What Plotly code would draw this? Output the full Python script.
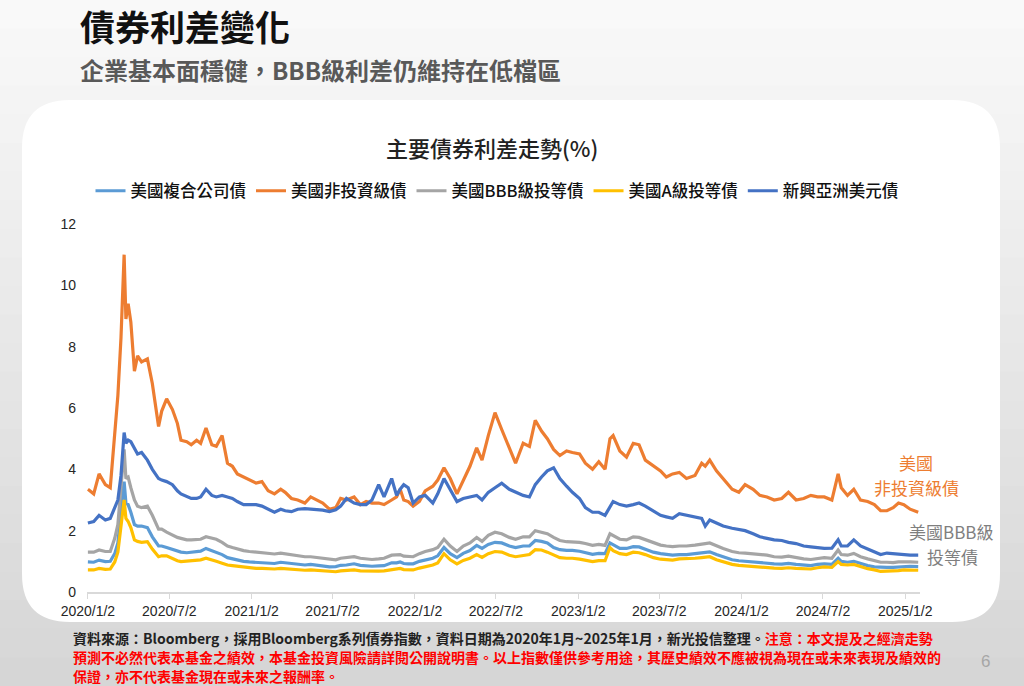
import plotly.graph_objects as go

# ---------------- data ----------------
dates = [
    "2020-01-02", "2020-01-15", "2020-01-27", "2020-02-10", "2020-02-21", "2020-03-02", "2020-03-09", "2020-03-16",
    "2020-03-23", "2020-03-27", "2020-04-01", "2020-04-07", "2020-04-15", "2020-04-22", "2020-05-01", "2020-05-14",
    "2020-05-25", "2020-06-08", "2020-06-15", "2020-06-26", "2020-07-09", "2020-07-20", "2020-07-28", "2020-08-10",
    "2020-08-20", "2020-09-01", "2020-09-10", "2020-09-22", "2020-10-05", "2020-10-15", "2020-10-28", "2020-11-09",
    "2020-11-20", "2020-12-01", "2020-12-15", "2020-12-28",
    "2021-01-12", "2021-01-25", "2021-02-08", "2021-02-22", "2021-03-08", "2021-03-18", "2021-04-01", "2021-04-15",
    "2021-05-01", "2021-05-14", "2021-05-28", "2021-06-10", "2021-06-25", "2021-07-09", "2021-07-20", "2021-08-02",
    "2021-08-19", "2021-09-02", "2021-09-15", "2021-09-28", "2021-10-13", "2021-10-25", "2021-11-11", "2021-11-22",
    "2021-11-30", "2021-12-08", "2021-12-18", "2021-12-29",
    "2022-01-12", "2022-01-25", "2022-02-11", "2022-02-22", "2022-03-08", "2022-03-22", "2022-04-06", "2022-04-20",
    "2022-05-05", "2022-05-20", "2022-06-01", "2022-06-15", "2022-06-30", "2022-07-15", "2022-08-01", "2022-08-15",
    "2022-09-01", "2022-09-15", "2022-09-28", "2022-10-12", "2022-10-25", "2022-11-08", "2022-11-22", "2022-12-07",
    "2022-12-20",
    "2023-01-05", "2023-01-18", "2023-02-03", "2023-02-17", "2023-03-03", "2023-03-14", "2023-03-21", "2023-04-05",
    "2023-04-20", "2023-05-05", "2023-05-18", "2023-06-01", "2023-06-19", "2023-07-05", "2023-07-18", "2023-08-01",
    "2023-08-16", "2023-09-01", "2023-09-20", "2023-10-05", "2023-10-13", "2023-10-23", "2023-11-07", "2023-11-22",
    "2023-12-12", "2023-12-27",
    "2024-01-10", "2024-01-28", "2024-02-12", "2024-02-28", "2024-03-15", "2024-04-01", "2024-04-16", "2024-05-03",
    "2024-05-20", "2024-06-05", "2024-06-20", "2024-07-05", "2024-07-22", "2024-08-05", "2024-08-12", "2024-08-26",
    "2024-09-09", "2024-09-24", "2024-10-10", "2024-10-25", "2024-11-08", "2024-11-22", "2024-12-06", "2024-12-18",
    "2024-12-30",
    "2025-01-13", "2025-01-31",
]

us_corp_agg = [  # 美國複合公司債
    0.98, 0.97, 1.04, 0.99, 1.0, 1.25, 1.6, 2.5, 3.6, 2.9, 2.85, 2.6, 2.2, 2.15, 2.15, 2.1, 1.8, 1.5, 1.5, 1.45,
    1.38, 1.33, 1.3, 1.28, 1.3, 1.3, 1.33, 1.42, 1.35, 1.3, 1.22, 1.12, 1.08, 1.05, 1.0, 0.98,
    0.96, 0.95, 0.93, 0.93, 0.97, 0.95, 0.92, 0.9, 0.88, 0.9, 0.88, 0.85, 0.82, 0.83, 0.87, 0.88, 0.92, 0.87,
    0.85, 0.84, 0.85, 0.86, 0.95, 0.95, 0.98, 0.93, 0.92, 0.92,
    1.0, 1.05, 1.1, 1.18, 1.45, 1.25, 1.12, 1.26, 1.35, 1.52, 1.42, 1.55, 1.62, 1.6, 1.5, 1.45, 1.5, 1.5, 1.68,
    1.65, 1.6, 1.45, 1.38, 1.36, 1.36,
    1.33, 1.28, 1.23, 1.26, 1.25, 1.6, 1.55, 1.42, 1.42, 1.48, 1.47, 1.4, 1.3, 1.25, 1.22, 1.2, 1.22, 1.22, 1.25,
    1.27, 1.3, 1.31, 1.22, 1.14, 1.05, 1.02,
    1.0, 0.99, 0.97, 0.95, 0.92, 0.91, 0.93, 0.9, 0.87, 0.86, 0.9, 0.92, 0.9, 1.1, 1.0, 0.97, 1.0, 0.92, 0.86,
    0.82, 0.8, 0.8, 0.8, 0.82, 0.83,
    0.84, 0.83,
]

us_high_yield = [  # 美國非投資級債
    3.35, 3.2, 3.85, 3.5, 3.4, 5.0, 6.4, 8.3, 11.0, 8.9, 9.4, 8.8, 7.2, 7.7, 7.5, 7.6, 6.8, 5.4, 5.9, 6.3,
    5.95, 5.5, 4.95, 4.9, 4.8, 4.95, 4.85, 5.35, 4.8, 4.75, 5.1, 4.2, 4.1, 3.85, 3.75, 3.65,
    3.55, 3.6, 3.3, 3.2, 3.35, 3.25, 3.05, 3.0, 2.9, 3.1, 3.0, 2.9, 2.7, 2.75, 3.05, 3.0, 3.1, 2.85,
    2.95, 2.9, 2.9, 2.85, 3.0, 3.1, 3.35, 3.0, 2.95, 2.8,
    2.95, 3.3, 3.45, 3.65, 4.05, 3.7, 3.2, 3.65, 4.1, 4.7, 4.3, 5.1, 5.85, 5.3, 4.7, 4.2, 4.85, 4.75, 5.6,
    5.25, 5.0, 4.65, 4.45, 4.6, 4.55,
    4.5, 4.2, 4.0, 4.25, 4.0, 5.0, 5.1, 4.6, 4.4, 4.85, 4.8, 4.3, 4.1, 3.95, 3.75, 3.85, 3.9, 3.7, 3.8,
    4.2, 4.1, 4.3, 3.95, 3.7, 3.35, 3.25,
    3.5, 3.35, 3.15, 3.1, 3.0, 3.05, 3.25, 3.0, 3.05, 3.15, 3.1, 3.1, 3.0, 3.85, 3.4, 3.15, 3.35, 3.0, 2.95,
    2.85, 2.65, 2.65, 2.75, 2.9, 2.85,
    2.7, 2.6,
]

us_bbb = [  # 美國BBB級投等債
    1.3, 1.3, 1.37, 1.32, 1.32, 1.75, 2.2, 3.3, 4.65, 3.7, 3.75, 3.4, 3.0, 2.8, 2.75, 2.8, 2.5, 2.05, 2.05, 1.95,
    1.85, 1.78, 1.75, 1.7, 1.7, 1.7, 1.72, 1.8, 1.75, 1.72, 1.62, 1.5, 1.45, 1.4, 1.35, 1.32,
    1.3, 1.27, 1.25, 1.24, 1.27, 1.25, 1.2, 1.17, 1.15, 1.15, 1.12, 1.1, 1.06, 1.05, 1.1, 1.12, 1.15, 1.1,
    1.07, 1.06, 1.08, 1.1, 1.2, 1.2, 1.22, 1.17, 1.15, 1.15,
    1.25, 1.32, 1.38, 1.45, 1.72, 1.5, 1.32, 1.5, 1.6, 1.78, 1.65, 1.85, 1.95, 1.9, 1.78, 1.72, 1.8, 1.8, 2.0,
    1.95, 1.9, 1.78, 1.68, 1.64, 1.64,
    1.62, 1.58, 1.52, 1.55, 1.52, 1.9, 1.85, 1.72, 1.7, 1.8, 1.78, 1.7, 1.6, 1.53, 1.5, 1.48, 1.5, 1.5, 1.53,
    1.55, 1.58, 1.6, 1.5, 1.42, 1.32, 1.28,
    1.27, 1.25, 1.22, 1.2, 1.15, 1.14, 1.17, 1.12, 1.08, 1.06, 1.1, 1.12, 1.1, 1.37, 1.22, 1.2, 1.26, 1.15, 1.08,
    1.02, 0.97, 0.97, 0.96, 0.98, 0.99,
    0.98, 0.97,
]

us_a = [  # 美國A級投等債
    0.72, 0.72, 0.77, 0.74, 0.75, 0.98, 1.3, 2.1, 3.0, 2.4, 2.3, 2.1, 1.7, 1.65, 1.62, 1.64, 1.4, 1.15, 1.18, 1.18,
    1.08, 1.02, 0.99, 1.0, 1.02, 1.03, 1.05, 1.1, 1.03, 1.0, 0.94, 0.88, 0.86, 0.84, 0.8, 0.78,
    0.77, 0.77, 0.75, 0.75, 0.77, 0.76, 0.74, 0.72, 0.71, 0.72, 0.7, 0.68, 0.66, 0.66, 0.69, 0.7, 0.72, 0.69,
    0.68, 0.67, 0.68, 0.69, 0.74, 0.75, 0.77, 0.73, 0.72, 0.72,
    0.78, 0.83, 0.88, 0.95, 1.25, 1.05, 0.92, 1.03, 1.1, 1.22, 1.13, 1.25, 1.32, 1.3, 1.2, 1.15, 1.2, 1.22, 1.38,
    1.37, 1.3, 1.2, 1.12, 1.1, 1.1,
    1.07, 1.03, 0.99, 1.02, 1.02, 1.45, 1.35, 1.25, 1.22, 1.3, 1.28, 1.22, 1.12, 1.07, 1.05, 1.04, 1.08, 1.08, 1.1,
    1.12, 1.14, 1.15, 1.05, 0.98, 0.9, 0.87,
    0.85, 0.84, 0.82, 0.8, 0.78, 0.77, 0.79, 0.77, 0.75, 0.75, 0.79, 0.82, 0.8, 0.99, 0.9, 0.88, 0.9, 0.82, 0.76,
    0.72, 0.67, 0.68, 0.68, 0.7, 0.72,
    0.72, 0.71,
]

em_asia_usd = [  # 新興亞洲美元債
    2.25, 2.3, 2.5, 2.35, 2.4, 2.75, 3.0, 3.8, 5.2, 4.85, 4.95, 4.9, 4.7, 4.5, 4.55, 4.3, 4.0, 3.7, 3.65, 3.6,
    3.5, 3.3, 3.2, 3.1, 3.05, 3.05, 3.1, 3.35, 3.15, 3.1, 3.15, 3.1, 3.05, 2.95, 2.85, 2.85,
    2.85, 2.8, 2.7, 2.6, 2.7, 2.65, 2.62, 2.7, 2.72, 2.7, 2.68, 2.67, 2.62, 2.68, 2.8, 3.05, 2.9, 2.85,
    2.85, 3.0, 3.5, 3.1, 3.7, 3.15, 3.35, 3.5, 3.4, 2.9,
    3.1, 3.15, 2.9, 3.2, 3.7, 3.35, 2.95, 3.05, 3.1, 3.15, 3.0, 3.25, 3.4, 3.55, 3.35, 3.25, 3.15, 3.1, 3.5,
    3.75, 3.95, 4.05, 3.7, 3.45, 3.25,
    3.05, 2.75, 2.6, 2.6, 2.5, 2.8, 2.95, 2.85, 2.8, 2.85, 2.9, 2.8, 2.65, 2.5, 2.45, 2.4, 2.55, 2.5, 2.45,
    2.4, 2.15, 2.35, 2.25, 2.15, 2.08, 2.05,
    2.0, 1.9, 1.8, 1.75, 1.7, 1.68, 1.62, 1.58, 1.5, 1.47, 1.45, 1.42, 1.43, 1.7, 1.5, 1.5, 1.7, 1.5, 1.4,
    1.3, 1.22, 1.27, 1.25, 1.22, 1.22,
    1.2, 1.2,
]

series_names = ["美國複合公司債", "美國非投資級債", "美國BBB級投等債", "美國A級投等債", "新興亞洲美元債"]
series_values = [us_corp_agg, us_high_yield, us_bbb, us_a, em_asia_usd]
series_colors = ["#5B9BD5", "#ED7D31", "#A5A5A5", "#FFC000", "#4472C4"]

x_tick_vals = ["2020-01-02", "2020-07-02", "2021-01-02", "2021-07-02", "2022-01-02", "2022-07-02",
               "2023-01-02", "2023-07-02", "2024-01-02", "2024-07-02", "2025-01-02"]
x_tick_text = ["2020/1/2", "2020/7/2", "2021/1/2", "2021/7/2", "2022/1/2", "2022/7/2",
               "2023/1/2", "2023/7/2", "2024/1/2", "2024/7/2", "2025/1/2"]
y_tick_vals = [0, 2, 4, 6, 8, 10, 12]

# ---------------- layout helpers ----------------
W, H = 1024, 686
ML, MR, MT, MB = 87, 104, 224, 94
PW, PH = W - ML - MR, H - MT - MB


def fx(px):
    return (px - ML) / PW


def fy(py):
    return 1 - (py - MT) / PH


CJK = "Noto Sans CJK TC"
LAT = "Liberation Sans, Arial, Noto Sans CJK TC"

fig = go.Figure()
for name, vals, col in zip(series_names, series_values, series_colors):
    fig.add_trace(go.Scatter(
        x=dates, y=vals, name=name, mode="lines",
        line=dict(color=col, width=3.2),
        hoverinfo="skip",
    ))

shapes = []
# background vertical gradient bands
nb = 24
for i in range(nb):
    t = i / (nb - 1)
    c = int(round(249 - t * (249 - 214)))
    shapes.append(dict(type="rect", xref="paper", yref="paper", layer="below",
                       x0=fx(0), x1=fx(W), y0=fy(H * i / nb), y1=fy(H * (i + 1) / nb + 1),
                       fillcolor=f"rgb({c},{c},{c})", line=dict(width=0)))

# white rounded card
x0, x1, y0, y1, r = 22, 1000, 100, 622, 48
path = (f"M {fx(x0 + r)} {fy(y0)} L {fx(x1 - r)} {fy(y0)} Q {fx(x1)} {fy(y0)} {fx(x1)} {fy(y0 + r)} "
        f"L {fx(x1)} {fy(y1 - r)} Q {fx(x1)} {fy(y1)} {fx(x1 - r)} {fy(y1)} "
        f"L {fx(x0 + r)} {fy(y1)} Q {fx(x0)} {fy(y1)} {fx(x0)} {fy(y1 - r)} "
        f"L {fx(x0)} {fy(y0 + r)} Q {fx(x0)} {fy(y0)} {fx(x0 + r)} {fy(y0)} Z")
shapes.append(dict(type="path", xref="paper", yref="paper", layer="below", path=path,
                   fillcolor="#ffffff", line=dict(width=0)))

annotations = []


def ann(text, px, py, size, color, xanchor="center", weight="normal", family=CJK, align="center"):
    annotations.append(dict(
        text=text, x=fx(px), y=fy(py), xref="paper", yref="paper",
        xanchor=xanchor, yanchor="middle", showarrow=False, align=align,
        font=dict(family=family, size=size, color=color, weight=weight),
    ))


ann("債券利差變化", 78, 26, 35, "#111111", xanchor="left", weight="bold")
ann("企業基本面穩健，BBB級利差仍維持在低檔區", 78, 69, 24, "#595959", xanchor="left", weight="bold")
ann("主要債券利差走勢(%)", 492, 147, 22, "#222222", weight=500)

ann("美國", 916, 462, 17, "#ED7D31")
ann("非投資級債", 916, 487, 17, "#ED7D31")
ann("美國BBB級", 951, 531, 17, "#7F7F7F")
ann("投等債", 952, 556, 17, "#7F7F7F")

line1 = ("<span style='color:#222222'>資料來源：Bloomberg，採用Bloomberg系列債券指數，資料日期為2020年1月~2025年1月，新光投信整理。</span>"
         "<span style='color:#FF0000'>注意：本文提及之經濟走勢</span>")
line2 = "預測不必然代表本基金之績效，本基金投資風險請詳閱公開說明書。以上指數僅供參考用途，其歷史績效不應被視為現在或未來表現及績效的"
line3 = "保證，亦不代表基金現在或未來之報酬率。"
ann(line1, 71, 638, 14, "#222222", xanchor="left", weight="bold")
ann(line2, 71, 657, 14, "#FF0000", xanchor="left", weight="bold")
ann(line3, 71, 676, 14, "#FF0000", xanchor="left", weight="bold")
ann("6", 985, 661, 17, "#A6A6A6", family=LAT)

fig.update_layout(
    width=W, height=H, autosize=False,
    margin=dict(l=ML, r=MR, t=MT, b=MB, pad=0),
    paper_bgcolor="#eeeeee", plot_bgcolor="rgba(0,0,0,0)",
    shapes=shapes, annotations=annotations,
    showlegend=True,
    legend=dict(orientation="h", x=fx(497), y=fy(191), xanchor="center", yanchor="middle",
                font=dict(family=CJK, size=16.5, color="#111111", weight=500),
                bgcolor="rgba(0,0,0,0)", itemwidth=30, traceorder="normal"),
    xaxis=dict(type="date", range=["2019-12-31", "2025-02-04"], tickmode="array",
               tickvals=x_tick_vals, ticktext=x_tick_text,
               showgrid=False, zeroline=False, showline=True, linecolor="#D9D9D9", linewidth=2,
               ticks="outside", ticklen=5, tickcolor="#D9D9D9", tickwidth=1,
               tickfont=dict(family=LAT, size=14, color="#262626")),
    yaxis=dict(range=[0, 12], tickmode="array", tickvals=y_tick_vals,
               showgrid=False, zeroline=False, showline=False, ticks="",
               ticklabelstandoff=10,
               tickfont=dict(family=LAT, size=14, color="#262626")),
)

fig.write_html("out.html", config={"displayModeBar": False})
